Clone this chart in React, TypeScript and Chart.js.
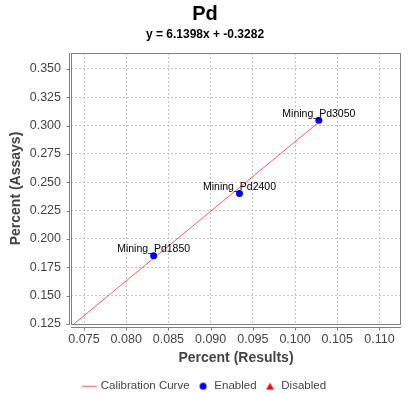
import React, { useEffect, useRef } from "react";
import { Chart, registerables } from "chart.js";

Chart.register(...registerables);

const chartTitle = "Pd";
const chartSubtitle = "y = 6.1398x + -0.3282";
const xAxisTitle = "Percent (Results)";
const yAxisTitle = "Percent (Assays)";

const curveX = [0.0738, 0.1027];
const curveY = [0.125, 0.3024];

const enabledX = [0.08325, 0.09342, 0.10282];
const enabledY = [0.1853, 0.2402, 0.3047];
const enabledLabels = ["Mining_Pd1850", "Mining_Pd2400", "Mining_Pd3050"];

const disabledX: number[] = [];
const disabledY: number[] = [];

const xTicks = [0.075, 0.08, 0.085, 0.09, 0.095, 0.1, 0.105, 0.11];
const yTicks = [0.125, 0.15, 0.175, 0.2, 0.225, 0.25, 0.275, 0.3, 0.325, 0.35];
const xRange = [0.07346, 0.11255];
const yRange = [0.125, 0.3641];

const legendNames = ["Calibration Curve", "Enabled", "Disabled"];

const FONT = "'Liberation Sans', Arial, sans-serif";
const LINE_COLOR = "#ff5a5a";
const ENABLED_COLOR = "#0000ff";
const DISABLED_COLOR = "#ff0000";
const AXIS_COLOR = "#808080";
const TEXT_GRAY = "#444444";

function makeIcon(kind: string): HTMLCanvasElement {
  const c = document.createElement("canvas");
  const g = c.getContext("2d")!;
  if (kind === "line") {
    c.width = 15;
    c.height = 3;
    g.fillStyle = LINE_COLOR;
    g.fillRect(0, 1, 15, 1);
  } else if (kind === "circle") {
    c.width = 8;
    c.height = 8;
    g.fillStyle = ENABLED_COLOR;
    g.beginPath();
    g.arc(4, 4, 3.5, 0, Math.PI * 2);
    g.fill();
  } else {
    c.width = 9;
    c.height = 8;
    g.fillStyle = DISABLED_COLOR;
    g.beginPath();
    g.moveTo(4.5, 0.5);
    g.lineTo(8.5, 7.5);
    g.lineTo(0.5, 7.5);
    g.closePath();
    g.fill();
  }
  return c;
}

const framePlugin = {
  id: "jfreeFrame",
  afterDatasetsDraw(chart: any) {
    const { ctx, chartArea: a, scales } = chart;
    ctx.save();
    const lx = Math.round(a.left) + 0.5;
    const rx = Math.round(a.right) - 0.5;
    const ty = Math.round(a.top) + 0.5;
    const by = Math.round(a.bottom) + 0.5;
    ctx.strokeStyle = AXIS_COLOR;
    ctx.lineWidth = 1;
    ctx.strokeRect(lx, ty, rx - lx, by - ty);
    // offset axis lines
    const axX = lx - 2;
    const axY = by + 3;
    ctx.beginPath();
    ctx.moveTo(axX, ty - 0.5);
    ctx.lineTo(axX, by + 0.5);
    ctx.moveTo(lx - 0.5, axY);
    ctx.lineTo(rx + 0.5, axY);
    // tick marks
    yTicks.forEach((v) => {
      const py = Math.round(scales.y.getPixelForValue(v)) + 0.5;
      ctx.moveTo(axX - 3, py);
      ctx.lineTo(axX, py);
    });
    xTicks.forEach((v) => {
      const px = Math.round(scales.x.getPixelForValue(v)) + 0.5;
      ctx.moveTo(px, axY);
      ctx.lineTo(px, axY + 3);
    });
    ctx.stroke();
    // item labels
    const meta = chart.getDatasetMeta(1);
    ctx.fillStyle = "#000";
    ctx.font = `10.5px ${FONT}`;
    ctx.textAlign = "center";
    ctx.textBaseline = "alphabetic";
    meta.data.forEach((el: any, i: number) => {
      ctx.fillText(enabledLabels[i], el.x, el.y - 3.5);
    });
    ctx.restore();
  },
};

export default function App() {
  const ref = useRef<HTMLCanvasElement | null>(null);

  useEffect(() => {
    document.body.style.margin = "0";
    const canvas = ref.current;
    if (!canvas) return;
    const icons = [makeIcon("line"), makeIcon("circle"), makeIcon("triangle")];
    const legendColors = [LINE_COLOR, ENABLED_COLOR, DISABLED_COLOR];

    const chart = new Chart(canvas, {
      type: "scatter",
      data: {
        datasets: [
          {
            label: legendNames[0],
            data: curveX.map((x, i) => ({ x, y: curveY[i] })),
            showLine: true,
            borderColor: LINE_COLOR,
            backgroundColor: LINE_COLOR,
            borderWidth: 1,
            pointRadius: 0,
            order: 3,
          },
          {
            label: legendNames[1],
            data: enabledX.map((x, i) => ({ x, y: enabledY[i] })),
            pointStyle: "circle",
            pointRadius: 3.5,
            backgroundColor: ENABLED_COLOR,
            borderColor: ENABLED_COLOR,
            borderWidth: 0,
            order: 1,
          },
          {
            label: legendNames[2],
            data: disabledX.map((x, i) => ({ x, y: disabledY[i] })),
            pointStyle: "triangle",
            pointRadius: 4,
            backgroundColor: DISABLED_COLOR,
            borderColor: DISABLED_COLOR,
            borderWidth: 0,
            order: 2,
          },
        ],
      },
      options: {
        animation: false,
        responsive: false,
        devicePixelRatio: 1,
        layout: { padding: { left: 9, right: 11, top: 0, bottom: -9 } },
        font: { family: FONT },
        plugins: {
          tooltip: { enabled: false },
          title: {
            display: true,
            text: chartTitle,
            color: "#000",
            font: { family: FONT, size: 20, weight: "bold" },
            padding: { top: 2, bottom: 0 },
          },
          subtitle: {
            display: true,
            text: chartSubtitle,
            color: "#000",
            font: { family: FONT, size: 12, weight: "bold" },
            padding: { top: 1.6, bottom: 11 },
          },
          legend: {
            position: "bottom",
            labels: {
              usePointStyle: true,
              boxWidth: 11,
              padding: 8,
              color: TEXT_GRAY,
              font: { family: FONT, size: 11.5 },
              generateLabels: () =>
                legendNames.map((text, i) => ({
                  text,
                  pointStyle: icons[i] as any,
                  fillStyle: legendColors[i],
                  strokeStyle: legendColors[i],
                  lineWidth: 0,
                  hidden: false,
                  datasetIndex: i,
                  fontColor: TEXT_GRAY,
                })),
            },
          },
        },
        scales: {
          x: {
            type: "linear",
            min: xRange[0],
            max: xRange[1],
            afterBuildTicks: (s: any) => {
              s.ticks = xTicks.map((value) => ({ value }));
            },
            afterFit: (s: any) => {
              s.height = 48.5;
            },
            grid: { color: "#c4c4c4", drawTicks: false, lineWidth: 1 },
            border: { display: false, dash: [2, 2] },
            ticks: {
              padding: 8,
              color: TEXT_GRAY,
              font: { family: FONT, size: 12.5 },
              maxRotation: 0,
              callback: (v: any) => Number(v).toFixed(3),
            },
            title: {
              display: true,
              text: xAxisTitle,
              color: TEXT_GRAY,
              font: { family: FONT, size: 14, weight: "bold" },
              padding: { top: 0, bottom: 5.7 },
            },
          },
          y: {
            type: "linear",
            min: yRange[0],
            max: yRange[1],
            afterBuildTicks: (s: any) => {
              s.ticks = yTicks.map((value) => ({ value }));
            },
            afterFit: (s: any) => {
              s.width = 62;
            },
            grid: { color: "#c4c4c4", drawTicks: false, lineWidth: 1 },
            border: { display: false, dash: [2, 2] },
            ticks: {
              padding: 10,
              color: TEXT_GRAY,
              font: { family: FONT, size: 12.5 },
              callback: (v: any) => Number(v).toFixed(3),
            },
            title: {
              display: true,
              text: yAxisTitle,
              color: TEXT_GRAY,
              font: { family: FONT, size: 14, weight: "bold", lineHeight: 1 },
              padding: { top: 0, bottom: 0 },
            },
          },
        },
      } as any,
      plugins: [framePlugin],
    });
    return () => chart.destroy();
  }, []);

  return (
    <div style={{ width: 412, height: 393, background: "#fff" }}>
      <canvas ref={ref} width={412} height={393} style={{ display: "block" }} />
    </div>
  );
}
